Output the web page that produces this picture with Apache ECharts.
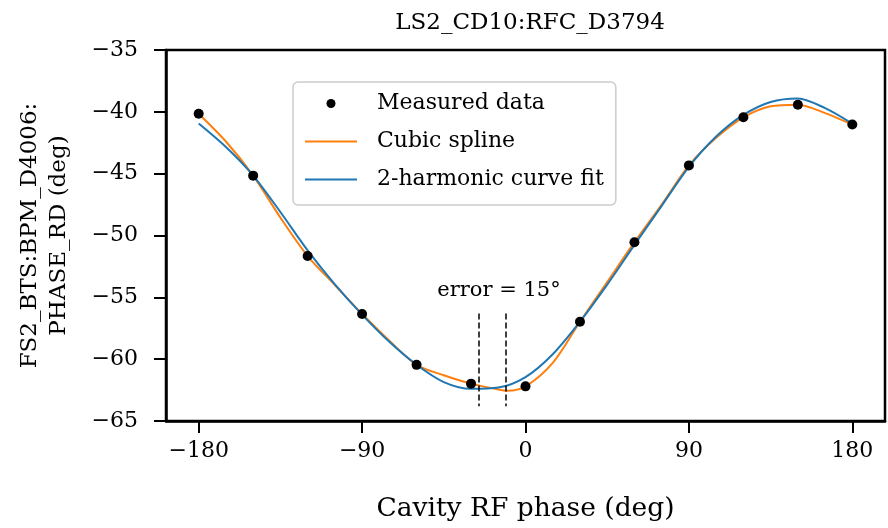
<!DOCTYPE html>
<html>
<head>
<meta charset="utf-8">
<script src="https://cdn.jsdelivr.net/npm/echarts@6/dist/echarts.min.js"></script>
<style>html,body{margin:0;padding:0;background:#fff}#c{width:888px;height:528px}</style>
</head>
<body>
<div id="c"></div>
<script>
// Measured data (every 30 deg)
const phases = [-180, -150, -120, -90, -60, -30, 0, 30, 60, 90, 120, 150, 180];
const measured = [-40.15, -45.16, -51.66, -56.35, -60.46, -61.98, -62.2, -56.97, -50.54, -44.33, -40.44, -39.42, -41.03];

// Cubic spline curve
const splineX = [-180, -165, -150, -135, -120, -105, -90, -75, -60, -45, -30, -15, -10, 0, 15, 30, 45, 60, 75, 90, 105, 120, 135, 150, 165, 180];
const splineY = [-40.15, -42.4, -45.16, -48.55, -51.66, -54.0, -56.35, -58.5, -60.46, -61.3, -61.98, -62.45, -62.55, -62.2, -60.3, -56.97, -53.76, -50.54, -47.5, -44.33, -42.1, -40.44, -39.55, -39.42, -40.1, -41.03];

// 2-harmonic curve fit
const fitX = [-180, -165, -150, -135, -120, -105, -90, -75, -60, -45, -30, -15, 0, 15, 30, 45, 60, 75, 90, 105, 120, 135, 150, 165, 180];
const fitY = [-40.95, -42.85, -45.15, -48.1, -51.2, -53.95, -56.4, -58.6, -60.45, -61.85, -62.4, -62.3, -61.45, -59.6, -56.97, -53.97, -50.76, -47.6, -44.45, -42.0, -40.25, -39.2, -38.92, -39.7, -40.95];

// Error markers
const errorX = [-26, -11];
const errorSpan = [-56.3, -63.8];
const errorText = 'error = 15°';
const errorTextPos = [-14.6, -54.45];

const xTicks = [-180, -90, 0, 90, 180];
const titleText = 'LS2_CD10:RFC_D3794';
const xName = 'Cavity RF phase (deg)';
const yName = 'FS2_BTS:BPM_D4006:\nPHASE_RD (deg)';
const seriesNames = ['Measured data', 'Cubic spline', '2-harmonic curve fit'];

const FONT = 'DejaVu Serif';
const minus = v => String(v).replace('-', '\u2212');
const zip = (a, b) => a.map((v, i) => [v, b[i]]);
const lineIcon = 'path://M0,0H52V2H0Z';

const chart = echarts.init(document.getElementById('c'), null, {renderer: 'canvas'});
chart.setOption({
  animation: false,
  backgroundColor: '#fff',
  title: {
    text: titleText, left: 525, top: 7, textAlign: 'center',
    textStyle: {fontFamily: FONT, fontSize: 23, fontWeight: 'normal', color: '#000'}
  },
  grid: {left: 166, right: 3, top: 50, bottom: 105, show: true, borderColor: '#000', borderWidth: 2.5, backgroundColor: 'transparent'},
  legend: {
    orient: 'vertical', left: 293, top: 82,
    data: [{name: seriesNames[0], icon: 'circle'}, {name: seriesNames[1], icon: lineIcon}, {name: seriesNames[2], icon: lineIcon}],
    itemWidth: 52, itemHeight: 9, itemGap: 11,
    padding: [8, 12, 12, 12],
    backgroundColor: 'rgba(255,255,255,0.8)', borderColor: '#cccccc', borderWidth: 1.5, borderRadius: 5,
    textStyle: {fontFamily: FONT, fontSize: 22, color: '#000', lineHeight: 27, padding: [0, 0, 0, 15]}
  },
  xAxis: {
    type: 'value', min: -198, max: 198,
    name: xName, nameLocation: 'middle', nameGap: 75,
    nameTextStyle: {fontFamily: FONT, fontSize: 26.5, color: '#000'},
    axisLine: {show: true, onZero: false, lineStyle: {color: '#000', width: 2.5}},
    axisTick: {show: true, inside: false, length: 12, customValues: xTicks, lineStyle: {color: '#000', width: 2}},
    axisLabel: {customValues: xTicks, margin: 19, fontFamily: FONT, fontSize: 22, color: '#000', formatter: minus},
    splitLine: {show: false}
  },
  yAxis: {
    type: 'value', min: -65, max: -35, interval: 5,
    name: yName, nameLocation: 'middle', nameGap: 92, nameRotate: 90,
    nameTextStyle: {fontFamily: FONT, fontSize: 23, color: '#000', lineHeight: 29, align: 'center'},
    axisLine: {show: true, onZero: false, lineStyle: {color: '#000', width: 2.5}},
    axisTick: {show: true, inside: false, length: 12, lineStyle: {color: '#000', width: 2}},
    axisLabel: {margin: 28, fontFamily: FONT, fontSize: 22, color: '#000', formatter: minus},
    splitLine: {show: false}
  },
  series: [
    {
      name: seriesNames[0], type: 'scatter', data: zip(phases, measured),
      symbol: 'circle', symbolSize: 10, itemStyle: {color: '#000', opacity: 1}, z: 5,
      markLine: {
        silent: true, symbol: ['none', 'none'], label: {show: false},
        lineStyle: {color: '#000', width: 1.5, type: [6, 3], opacity: 1},
        data: errorX.map(x => [{coord: [x, errorSpan[0]]}, {coord: [x, errorSpan[1]]}])
      },
      markPoint: {
        silent: true, symbol: 'circle', symbolSize: 0,
        data: [{coord: errorTextPos}],
        label: {show: true, position: 'inside', formatter: errorText, fontFamily: FONT, fontSize: 21, color: '#000'}
      }
    },
    {
      name: seriesNames[1], type: 'line', data: zip(splineX, splineY),
      smooth: 0.3, symbol: 'none', lineStyle: {color: '#ff7f0e', width: 2}, itemStyle: {color: '#ff7f0e'}, z: 3
    },
    {
      name: seriesNames[2], type: 'line', data: zip(fitX, fitY),
      smooth: 0.3, symbol: 'none', lineStyle: {color: '#1f77b4', width: 2}, itemStyle: {color: '#1f77b4'}, z: 3
    }
  ]
});
</script>
</body>
</html>
